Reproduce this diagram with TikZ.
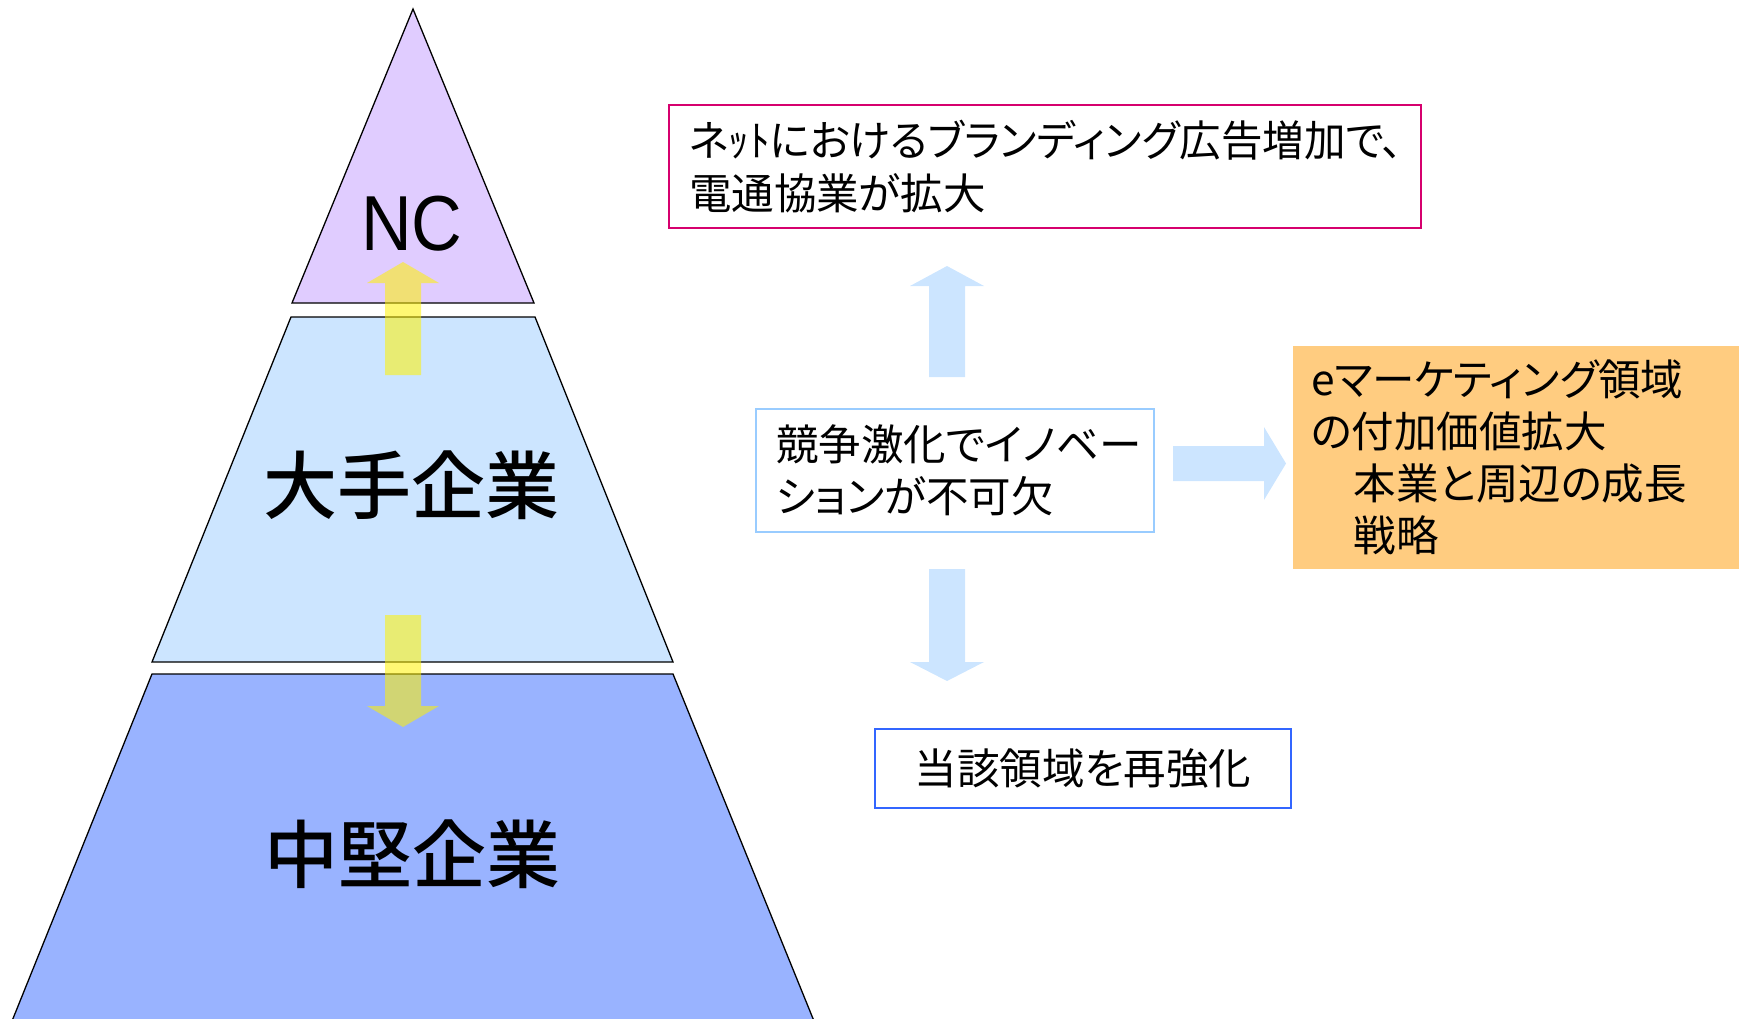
\documentclass[tikz,border=0pt]{standalone}
\usepackage{fontspec}
\setmainfont{Liberation Sans}
\newfontfamily\jpfont[RawFeature=+palt]{Noto Sans CJK JP}
\newfontfamily\jpmid{Noto Sans CJK JP Medium}
\usepackage{tikz}
\pgfdeclarelayer{bg}
\pgfsetlayers{bg,main}
\definecolor{ncpurple}{RGB}{224,204,255}
\definecolor{bigblue}{RGB}{204,229,255}
\definecolor{midblue}{RGB}{153,179,255}
\definecolor{boxpink}{RGB}{214,0,110}
\definecolor{boxlight}{RGB}{153,204,255}
\definecolor{boxblue}{RGB}{51,102,255}
\definecolor{emarket}{RGB}{255,204,128}

\begin{document}
\begin{tikzpicture}[x=1pt, y=-1pt,
    slice/.style={draw=black, line width=1.3pt},
    tier/.style={font=\jpmid\fontsize{74}{80}\selectfont},
    memo/.style={font=\jpfont\fontsize{42.5}{52}\selectfont, align=left},
    upshift/.style={fill=yellow, fill opacity=0.55},
    flow/.style={fill=bigblue}]
    \useasboundingbox (0,0) rectangle (1739,1019);

    \begin{pgfonlayer}{bg}    % pyramid slices
        \draw [slice, fill=ncpurple] (413,9) -- (534,303) -- (292,303) -- cycle;
        \draw [slice, fill=bigblue] (291,317) -- (535,317) -- (673,662) -- (152,662) -- cycle;
        \fill [midblue] (152,674) -- (673,674) -- (816,1026) -- (10,1026) -- cycle;
        \draw [slice] (10,1026) -- (152,674) -- (673,674) -- (816,1026);
    \end{pgfonlayer}

    \node [font=\fontsize{78}{84}\selectfont] (nc) at (412,224) {\scalebox{0.9}[1]{NC}};
    \node [tier] (ote) at (411,485) {大手企業};
    \node [tier] (chuken) at (412,854) {中堅企業};

    \fill [upshift] (385,375) -- (385,283) -- (367,283) -- (403,262) -- (439,283) -- (421,283) -- (421,375) -- cycle;
    \fill [upshift] (385,615) -- (385,706) -- (367,706) -- (403,727) -- (439,706) -- (421,706) -- (421,615) -- cycle;

    \node [memo, draw=boxpink, line width=1.5pt, text width=712pt, inner xsep=20pt, minimum height=123pt] (brand) at (1045,166.5) {\scalebox{0.977}[1]{ネｯﾄにおけるブランディング広告増加で、}\\[1pt]電通協業が拡大};
    \node [memo, draw=boxlight, line width=1.5pt, text width=358pt, inner xsep=20pt, minimum height=123pt] (innov) at (955,470.5) {競争激化でイノベー\\ションが不可欠};
    \node [memo, draw=boxblue, line width=1.5pt, minimum width=416pt, minimum height=79pt] (reinf) at (1083,768.5) {当該領域を再強化};
    \node [memo, fill=emarket, text width=410pt, inner xsep=18pt, minimum height=223pt] (emkt) at (1516,457.5) {eマーケティング領域\\の付加価値拡大\\\hspace*{1em}本業と周辺の成長\\\hspace*{1em}戦略};

    \fill [flow] (929,377) -- (929,286) -- (910,286) -- (947,266) -- (984,286) -- (965,286) -- (965,377) -- cycle;
    \fill [flow] (929,569) -- (929,662) -- (910,662) -- (947,681) -- (984,662) -- (965,662) -- (965,569) -- cycle;
    \fill [flow] (1173,446) -- (1264,446) -- (1264,427) -- (1286,463.5) -- (1264,500) -- (1264,481) -- (1173,481) -- cycle;
\end{tikzpicture}
\end{document}
